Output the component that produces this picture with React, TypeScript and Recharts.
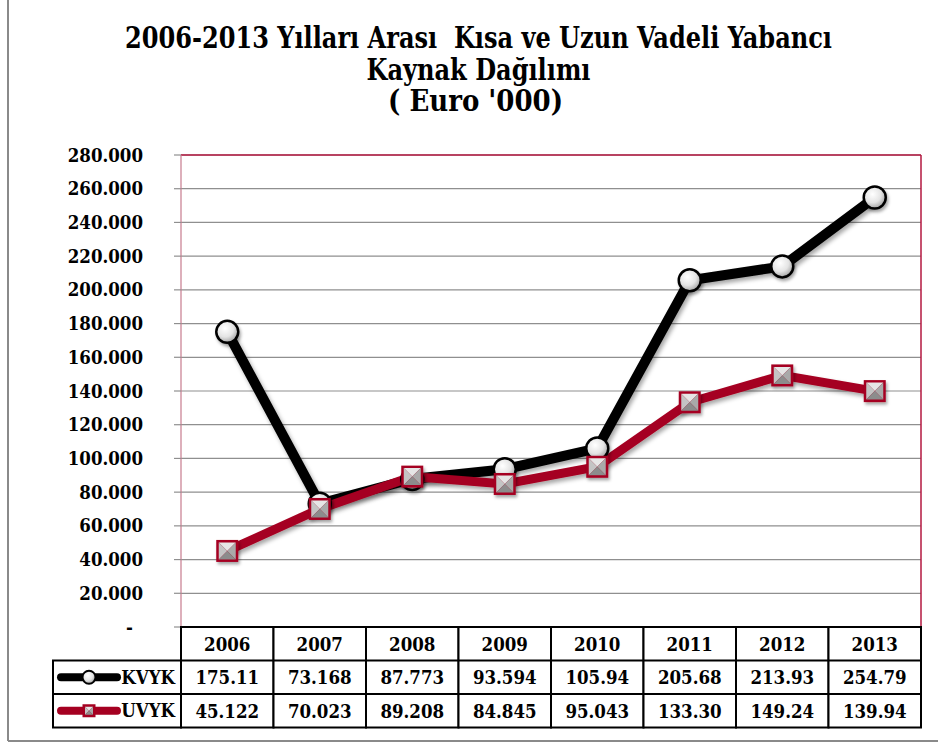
import React from 'react';
import { ComposedChart, Line, XAxis, YAxis, CartesianGrid } from 'recharts';

const years = ['2006', '2007', '2008', '2009', '2010', '2011', '2012', '2013'];
const kvyk = [175.11, 73.168, 87.773, 93.594, 105.94, 205.68, 213.93, 254.79];
const uvyk = [45.122, 70.023, 89.208, 84.845, 95.043, 133.3, 149.24, 139.94];
const kvykLabels = ['175.11', '73.168', '87.773', '93.594', '105.94', '205.68', '213.93', '254.79'];
const uvykLabels = ['45.122', '70.023', '89.208', '84.845', '95.043', '133.30', '149.24', '139.94'];
const yTicks = [0, 20, 40, 60, 80, 100, 120, 140, 160, 180, 200, 220, 240, 260, 280];
const seriesNames = ['KVYK', 'UVYK'];
const titleLines = [
  '2006-2013 Yılları Arası  Kısa ve Uzun Vadeli Yabancı',
  'Kaynak Dağılımı',
  "( Euro '000)",
];

const data = years.map((year, i) => ({ year, KVYK: kvyk[i], UVYK: uvyk[i] }));

const RED = '#a50021';
const FRAME = '#b3173f';
const SERIF = "'DejaVu Serif Condensed', 'DejaVu Serif', serif";
const FS = 18.5;

const CircleDot = (p: any) => {
  if (p.cx == null || p.cy == null) return <g key={p.index} />;
  return (
    <circle key={p.index} cx={p.cx} cy={p.cy} r={11} fill="url(#gCircle)" stroke="#000" strokeWidth={2.5} filter="url(#dotShadow)" />
  );
};

const SquareShape = ({ cx, cy, s }: { cx: number; cy: number; s: number }) => {
  const h = s / 2;
  const i = h - 2.5;
  return (
    <g>
      <rect x={cx - h} y={cy - h} width={s} height={s} fill={RED} />
      <polygon points={`${cx - i},${cy - i} ${cx + i},${cy - i} ${cx},${cy}`} fill="#e6e6e6" />
      <polygon points={`${cx - i},${cy - i} ${cx - i},${cy + i} ${cx},${cy}`} fill="#c4c4c4" />
      <polygon points={`${cx + i},${cy - i} ${cx + i},${cy + i} ${cx},${cy}`} fill="#a9a9a9" />
      <polygon points={`${cx - i},${cy + i} ${cx + i},${cy + i} ${cx},${cy}`} fill="#8c8c8c" />
    </g>
  );
};

const SquareDot = (p: any) => {
  if (p.cx == null || p.cy == null) return <g key={p.index} />;
  return (
    <g key={p.index} filter="url(#dotShadow)">
      <SquareShape cx={p.cx} cy={p.cy} s={22} />
    </g>
  );
};

const YTick = (p: any) => {
  const { x, y, payload } = p;
  const v = payload.value as number;
  return (
    <text x={v === 0 ? x - 10 : x} y={y} dy={6.5} textAnchor="end" fontFamily={SERIF} fontWeight="bold" fontSize={FS} fill="#000">
      {v === 0 ? '-' : v.toFixed(3)}
    </text>
  );
};

const TableTick = (p: any) => {
  const { x, y, payload } = p;
  const i = payload.index as number;
  const half = payload.offset && payload.offset > 0 ? payload.offset : 46.25;
  const l = x - half;
  const w = half * 2;
  const h = 33.5;
  const textProps = { fontFamily: SERIF, fontWeight: 'bold', fontSize: FS, fill: '#000', textAnchor: 'middle' as const };
  const rows = [kvykLabels[i], uvykLabels[i]];
  const legendW = 128;
  return (
    <g>
      <rect x={l} y={y} width={w} height={h * 3} fill="#fff" stroke="#000" strokeWidth={2} />
      <line x1={l} x2={l + w} y1={y + h} y2={y + h} stroke="#000" strokeWidth={2} />
      <line x1={l} x2={l + w} y1={y + h * 2} y2={y + h * 2} stroke="#000" strokeWidth={2} />
      <text x={x} y={y + 23.5} {...textProps}>{years[i]}</text>
      {rows.map((t, r) => (
        <text key={r} x={x} y={y + h * (r + 1) + 23.5} {...textProps}>{t}</text>
      ))}
      {i === 0 && (
        <g>
          <rect x={l - legendW} y={y + h} width={legendW} height={h * 2} fill="#fff" stroke="#000" strokeWidth={2} />
          <line x1={l - legendW} x2={l} y1={y + h * 2} y2={y + h * 2} stroke="#000" strokeWidth={2} />
          {seriesNames.map((name, r) => {
            const cy = y + h * (r + 1) + h / 2;
            const lx = l - legendW + 8;
            return (
              <g key={name}>
                <line x1={lx} x2={lx + 56} y1={cy} y2={cy} stroke={r === 0 ? '#000' : RED} strokeWidth={8} strokeLinecap="round" />
                {r === 0 ? (
                  <circle cx={lx + 28} cy={cy} r={6.5} fill="url(#gCircle)" stroke="#000" strokeWidth={2} />
                ) : (
                  <SquareShape cx={lx + 28} cy={cy} s={13} />
                )}
                <text x={l - 6} y={cy + 6.5} textAnchor="end" fontFamily={SERIF} fontWeight="bold" fontSize={FS} fill="#000">{name}</text>
              </g>
            );
          })}
        </g>
      )}
    </g>
  );
};

export default function App() {
  return (
    <div style={{ position: 'absolute', left: 0, top: 0, width: 938, height: 744, background: '#fff' }}>
      <svg width={0} height={0} style={{ position: 'absolute' }}>
        <defs>
          <radialGradient id="gCircle" cx="40%" cy="35%" r="70%">
            <stop offset="0%" stopColor="#ffffff" />
            <stop offset="55%" stopColor="#e4e4e4" />
            <stop offset="100%" stopColor="#9a9a9a" />
          </radialGradient>
          <filter id="lineShadow" x="-10%" y="-10%" width="120%" height="130%">
            <feDropShadow dx="2" dy="3" stdDeviation="2" floodColor="#000" floodOpacity="0.35" />
          </filter>
          <filter id="dotShadow" x="-50%" y="-50%" width="200%" height="200%">
            <feDropShadow dx="1.5" dy="2.5" stdDeviation="1.5" floodColor="#000" floodOpacity="0.35" />
          </filter>
        </defs>
      </svg>
      <ComposedChart width={938} height={744} data={data} margin={{ top: 154, right: 16, left: 0, bottom: 0 }}>
        <CartesianGrid vertical={false} stroke="#8f8f8f" strokeWidth={1.2} />
        <XAxis
          dataKey="year"
          scale="band"
          height={117}
          interval={0}
          tickLine={false}
          axisLine={false}
          tickSize={0}
          tickMargin={0}
          tick={<TableTick />}
        />
        <XAxis xAxisId="top" orientation="top" dataKey="year" scale="band" height={1} tick={false} tickLine={false} axisLine={{ stroke: FRAME, strokeWidth: 1.5 }} />
        <YAxis
          domain={[0, 280]}
          ticks={yTicks}
          interval={0}
          width={181}
          tickSize={7}
          tickMargin={31}
          tickLine={{ stroke: '#8f8f8f', strokeWidth: 1.2 }}
          axisLine={{ stroke: '#c77b8e', strokeWidth: 1.2 }}
          tick={<YTick />}
        />
        <YAxis yAxisId="right" orientation="right" domain={[0, 280]} width={1} tick={false} tickLine={false} axisLine={{ stroke: FRAME, strokeWidth: 1.5 }} />
        <Line
          dataKey="KVYK"
          stroke="#000"
          strokeWidth={10}
          dot={<CircleDot />}
          activeDot={false}
          isAnimationActive={false}
          style={{ filter: 'url(#lineShadow)' }}
        />
        <Line
          dataKey="UVYK"
          stroke={RED}
          strokeWidth={9}
          dot={<SquareDot />}
          activeDot={false}
          isAnimationActive={false}
          style={{ filter: 'url(#lineShadow)' }}
        />
      </ComposedChart>
      <svg width={938} height={744} style={{ position: 'absolute', left: 0, top: 0, pointerEvents: 'none' }}>
        <line x1={8} x2={8} y1={0} y2={741} stroke="#8a8a8a" strokeWidth={2} />
        <line x1={8} x2={938} y1={741} y2={741} stroke="#8a8a8a" strokeWidth={2} />
        {titleLines.map((t, k) => {
          const cfg = [
            { x: 478.5, y: 48, len: 707 },
            { x: 478.5, y: 80, len: 224 },
            { x: 475.5, y: 111, len: 175 },
          ][k];
          return (
            <text
              key={k}
              x={cfg.x}
              y={cfg.y}
              textAnchor="middle"
              fontFamily={SERIF}
              fontWeight="bold"
              fontSize={29}
              fill="#000"
              textLength={cfg.len}
              lengthAdjust="spacingAndGlyphs"
              style={{ whiteSpace: 'pre' }}
            >
              {t}
            </text>
          );
        })}
      </svg>
    </div>
  );
}
